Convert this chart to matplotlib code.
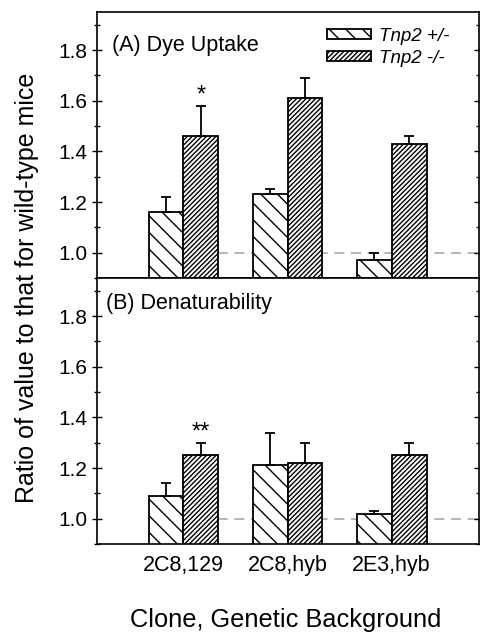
import numpy as np
import matplotlib
matplotlib.use("Agg")
import matplotlib.pyplot as plt
from matplotlib.ticker import MultipleLocator

plt.rcParams['font.family'] = ['Liberation Sans', 'DejaVu Sans']
plt.rcParams['hatch.linewidth'] = 1.0

# donnees
clones = ['2C8,129', '2C8,hyb', '2E3,hyb']
series = ['Tnp2 +/-', 'Tnp2 -/-']

dye_het = [1.16, 1.23, 0.97]
dye_het_err = [0.06, 0.02, 0.03]
dye_ko = [1.46, 1.61, 1.43]
dye_ko_err = [0.12, 0.08, 0.03]

den_het = [1.09, 1.21, 1.02]
den_het_err = [0.05, 0.13, 0.01]
den_ko = [1.25, 1.22, 1.25]
den_ko_err = [0.05, 0.08, 0.05]

# annotations de significativite (index du clone, texte)
dye_marks = [(0, '*')]
den_marks = [(0, '**')]

x = np.arange(1, len(clones) + 1)
w = 0.335

fig = plt.figure(figsize=(4.81, 6.33), dpi=100)
axA = fig.add_axes([0.2017, 0.5608, 0.7943, 0.4202])
axB = fig.add_axes([0.2017, 0.1406, 0.7943, 0.4202])


def panneau(ax, het, het_err, ko, ko_err, marks, titre, tx, ty):
    ax.hlines(1.0, x[0] + w / 2, x[-1] + 1, colors='#a8a8a8',
              linestyles=(0, (6, 4)), linewidth=1.2, zorder=0)
    ax.bar(x - w / 2, het, w, facecolor='white', edgecolor='black',
           hatch='\\\\', linewidth=1.3, label=series[0], zorder=2)
    ax.bar(x + w / 2, ko, w, facecolor='white', edgecolor='black',
           hatch='///////', linewidth=1.3, label=series[1], zorder=2)
    ax.errorbar(x - w / 2, het, yerr=[np.zeros(len(het)), het_err], fmt='none',
                ecolor='black', elinewidth=1.3, capsize=3.5, capthick=1.3, zorder=3)
    ax.errorbar(x + w / 2, ko, yerr=[np.zeros(len(ko)), ko_err], fmt='none',
                ecolor='black', elinewidth=1.3, capsize=3.5, capthick=1.3, zorder=3)
    for i, s in marks:
        ax.text(x[i] + w / 2, ko[i] + ko_err[i] - 0.005, s, ha='center',
                va='bottom', fontsize=17)
    ax.text(tx, ty, titre, transform=ax.transAxes, ha='left', va='top',
            fontsize=15.5)
    ax.set_xlim(0.17, 3.84)
    ax.set_ylim(0.9, 1.95)
    ax.yaxis.set_minor_locator(MultipleLocator(0.1))
    ax.set_yticks([1.0, 1.2, 1.4, 1.6, 1.8])
    ax.set_yticklabels(['1.0', '1.2', '1.4', '1.6', '1.8'])
    ax.tick_params(axis='y', which='both', direction='inout', right=True,
                   labelsize=15, width=1.0)
    ax.tick_params(axis='y', which='major', length=7)
    ax.tick_params(axis='y', which='minor', length=5)
    for sp in ax.spines.values():
        sp.set_linewidth(1.2)


panneau(axA, dye_het, dye_het_err, dye_ko, dye_ko_err, dye_marks,
        '(A) Dye Uptake', 0.04, 0.915)
panneau(axB, den_het, den_het_err, den_ko, den_ko_err, den_marks,
        '(B) Denaturability', 0.024, 0.945)

axA.set_xticks([])
axB.set_xticks(x)
axB.set_xticklabels(clones, fontsize=15.5)
axB.tick_params(axis='x', length=0, pad=8)

leg = axA.legend(loc='upper left', bbox_to_anchor=(0.602, 0.94), frameon=False,
                 prop={'style': 'italic', 'size': 13.5}, handlelength=2.35,
                 handleheight=0.45, labelspacing=0.25, handletextpad=0.4,
                 borderpad=0, borderaxespad=0)

fig.text(0.056, 0.545, 'Ratio of value to that for wild-type mice', rotation=90,
         ha='center', va='center', fontsize=18)
fig.text(0.593, 0.009, 'Clone, Genetic Background', ha='center', va='baseline',
         fontsize=18.3)

fig.savefig('out.png', dpi=100)
